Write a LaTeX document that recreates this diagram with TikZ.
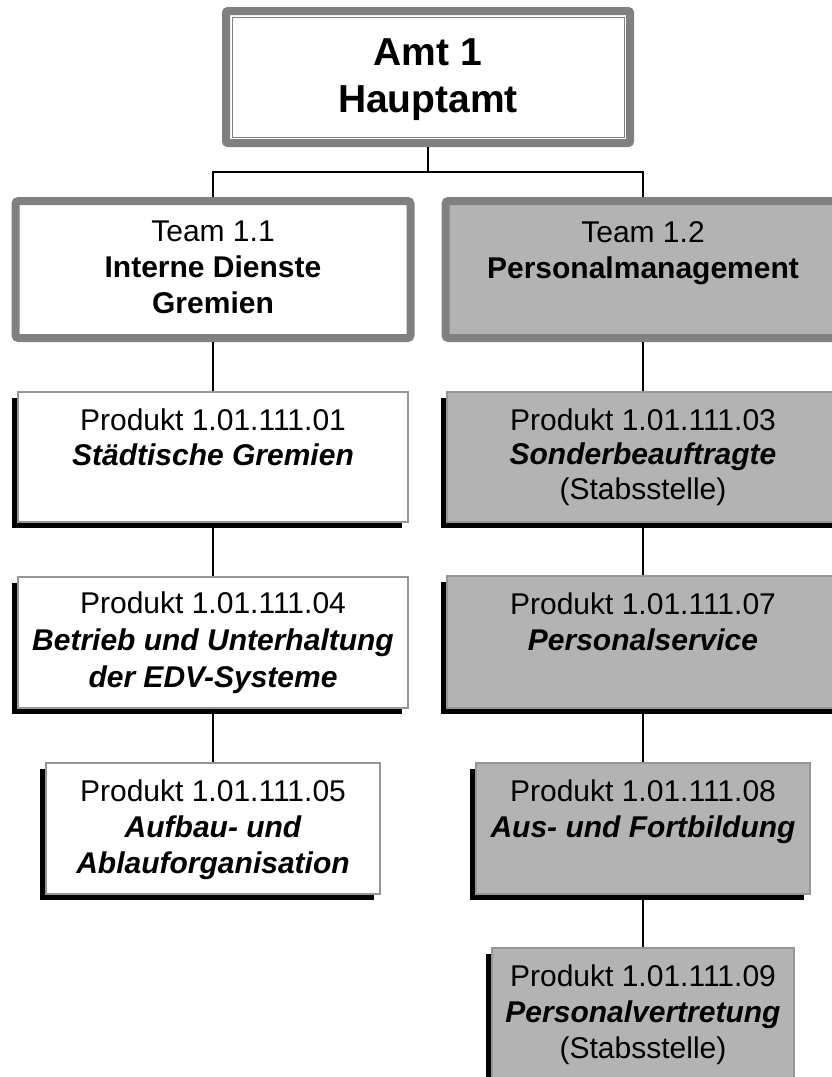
\documentclass[tikz,border=0pt]{standalone}
\usepackage{fontspec}
\setmainfont{Liberation Sans}
\usetikzlibrary{shadows}

\definecolor{boxgray}{RGB}{179,179,179}
\definecolor{framegray}{RGB}{128,128,128}
\definecolor{edgegray}{RGB}{150,150,150}

% top-aligned, centred text block: width, height, first-baseline depth, font size, line skip, text
\newcommand{\blocktext}[6]{%
  \parbox[c][#2][t]{#1}{\fontsize{#4}{#5}\selectfont\centering\rule{0pt}{#3}#6}}

\tikzset{
  amtbox/.style={draw=framegray, line width=8pt, fill=white, inner sep=0pt, rounded corners=2pt},
  teambox/.style={draw=framegray, line width=8pt, inner sep=0pt, rounded corners=3pt},
  prodbox/.style={draw=edgegray, line width=1.5pt, inner sep=0pt,
    drop shadow={shadow xshift=-6pt, shadow yshift=-6pt, fill=black, opacity=1}},
  connector/.style={draw=black, line width=1.6pt}
}

\begin{document}
\begin{tikzpicture}[x=1pt, y=-1pt]
  \useasboundingbox (0,0) rectangle (832,1077);
  \fill[white] (0,0) rectangle (832,1077);
  \clip (0,0) rectangle (832,1077);

  % department head
  \node[amtbox] (amt) at (428,77)
    {\blocktext{404pt}{132pt}{54pt}{39pt}{47pt}{\bfseries Amt 1\\Hauptamt}};
  \draw[framegray, line width=1pt]
    ([shift={(10,10)}]amt.north west) rectangle ([shift={(-10,-10)}]amt.south east);

  % teams
  \node[teambox, fill=white] (t1) at (213,269.5)
    {\blocktext{395pt}{137pt}{40pt}{30pt}{36pt}{Team 1.1\\\bfseries Interne Dienste\\Gremien}};
  \node[teambox, fill=boxgray] (t2) at (643,269.5)
    {\blocktext{395pt}{137pt}{41pt}{30pt}{36pt}{Team 1.2\\\bfseries Personalmanagement}};

  % products, left column
  \node[prodbox, fill=white] (p01) at (213,457)
    {\blocktext{390pt}{130pt}{38pt}{30pt}{35pt}{Produkt 1.01.111.01\\\bfseries\itshape Städtische Gremien}};
  \node[prodbox, fill=white] (p04) at (213,642.5)
    {\blocktext{390pt}{131pt}{36pt}{30pt}{37pt}{Produkt 1.01.111.04\\\bfseries\itshape Betrieb und Unterhaltung\\der EDV-Systeme}};
  \node[prodbox, fill=white] (p05) at (213,828.5)
    {\blocktext{334pt}{131pt}{38pt}{30pt}{36pt}{Produkt 1.01.111.05\\\bfseries\itshape Aufbau- und\\Ablauforganisation}};

  % products, right column
  \node[prodbox, fill=boxgray] (p03) at (643,457)
    {\blocktext{392pt}{130pt}{38pt}{30pt}{34.5pt}{Produkt 1.01.111.03\\{\bfseries\itshape Sonderbeauftragte}\\(Stabsstelle)}};
  \node[prodbox, fill=boxgray] (p07) at (643,642)
    {\blocktext{392pt}{132pt}{38pt}{30pt}{36pt}{Produkt 1.01.111.07\\\bfseries\itshape Personalservice}};
  \node[prodbox, fill=boxgray] (p08) at (643,828.5)
    {\blocktext{334pt}{131pt}{38pt}{30pt}{36pt}{Produkt 1.01.111.08\\\bfseries\itshape Aus- und Fortbildung}};
  \node[prodbox, fill=boxgray] (p09) at (643,1013)
    {\blocktext{302pt}{130pt}{38pt}{30pt}{36pt}{Produkt 1.01.111.09\\{\bfseries\itshape Personalvertretung}\\(Stabsstelle)}};

  % connectors
  \coordinate (fork) at (428,172);
  \draw[connector] (amt.south) -- (fork);
  \draw[connector] (fork) -| (t1.north);
  \draw[connector] (fork) -| (t2.north);

  \draw[connector] (t1.south) -- (p01.north);
  \draw[connector] (p01.south) -- (p04.north);
  \draw[connector] (p04.south) -- (p05.north);

  \draw[connector] (t2.south) -- (p03.north);
  \draw[connector] (p03.south) -- (p07.north);
  \draw[connector] (p07.south) -- (p08.north);
  \draw[connector] (p08.south) -- (p09.north);
\end{tikzpicture}
\end{document}
